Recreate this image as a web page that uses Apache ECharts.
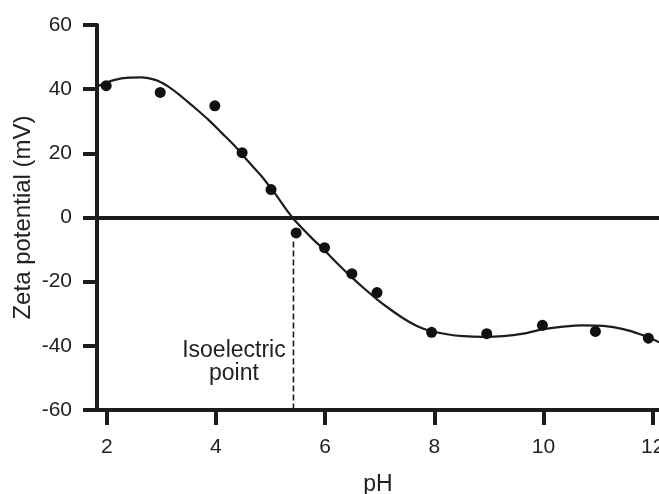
<!DOCTYPE html>
<html>
<head>
<meta charset="utf-8">
<script src="https://cdn.jsdelivr.net/npm/echarts@6/dist/echarts.min.js"></script>
<style>html,body{margin:0;padding:0;background:#fff;}#c{width:659px;height:494px;}</style>
</head>
<body>
<div id="c"></div>
<script>
var phPoints = [1.99, 2.98, 3.98, 4.48, 5.01, 5.47, 5.99, 6.49, 6.95, 7.95, 8.96, 9.98, 10.95, 11.92];
var zetaPoints = [41.1, 39, 34.8, 20.2, 8.7, -4.8, -9.4, -17.5, -23.4, -35.8, -36.2, -33.6, -35.5, -37.6];
// Fitted curve
var phCurve = [1.84, 1.88, 2.15, 2.4, 2.64, 2.89, 3.13, 3.37, 3.62, 3.86, 4.11, 4.35, 4.59, 4.84, 5.08, 5.4, 5.72, 5.97, 6.21, 6.46, 6.7, 6.95, 7.19, 7.43, 7.68, 7.92, 8.23, 8.53, 8.9, 9.26, 9.63, 10.0, 10.36, 10.73, 11.1, 11.46, 11.77, 12.07, 12.12];
var zetaCurve = [40.8, 41.3, 42.9, 43.6, 43.7, 42.9, 40.8, 37.7, 34.1, 30.5, 26.3, 22.2, 17.5, 12.8, 7.5, 0, -5.8, -9.9, -14.1, -18.2, -21.9, -25.5, -28.6, -31.4, -33.8, -35.3, -36.4, -37.0, -37.2, -37.0, -36.2, -34.8, -34.0, -33.6, -33.8, -34.8, -36.4, -38.5, -38.9];
var xTicks = [2, 4, 6, 8, 10, 12];
var isoelectricPH = 5.42;
var isoLineTop = -7.5;

var font = 'Liberation Sans, Arial, Helvetica, sans-serif';
var ink = '#1c1c1c';
var chart = echarts.init(document.getElementById('c'), null, {renderer: 'canvas'});
chart.setOption({
  animation: false,
  backgroundColor: '#fff',
  grid: {left: 97, right: 0, top: 25, bottom: 84, containLabel: false, outerBoundsMode: 'none'},
  xAxis: {
    type: 'value', min: 1.822, max: 12.115,
    name: 'pH', nameLocation: 'middle', nameGap: 63, nameMoveOverlap: false,
    nameTextStyle: {fontFamily: font, fontSize: 23, color: '#222'},
    axisLine: {onZero: false, lineStyle: {color: ink, width: 4}},
    axisTick: {show: true, length: 15, lineStyle: {color: ink, width: 4}, customValues: xTicks},
    axisLabel: {fontFamily: font, fontSize: 21, color: '#222', margin: 27, customValues: xTicks},
    splitLine: {show: false}
  },
  yAxis: {
    type: 'value', min: -60, max: 60, interval: 20,
    name: 'Zeta potential (mV)', nameLocation: 'middle', nameGap: 62, nameRotate: 90, nameMoveOverlap: false,
    nameTextStyle: {fontFamily: font, fontSize: 24, color: '#222'},
    axisLine: {show: true, onZero: false, lineStyle: {color: ink, width: 4}},
    axisTick: {show: true, length: 14, lineStyle: {color: ink, width: 4}},
    axisLabel: {fontFamily: font, fontSize: 21, color: '#222', margin: 25},
    splitLine: {show: false}
  },
  series: [
    {
      type: 'line', data: phCurve.map(function (x, i) { return [x, zetaCurve[i]]; }),
      smooth: 0.3, showSymbol: false, symbol: 'none',
      lineStyle: {color: ink, width: 2.2},
      markLine: {
        silent: true, symbol: 'none', label: {show: false},
        lineStyle: {color: ink, width: 4, type: 'solid'},
        data: [{yAxis: 0}]
      },
      z: 3
    },
    {
      type: 'line', data: [[isoelectricPH, isoLineTop], [isoelectricPH, -60]],
      showSymbol: false, symbol: 'none',
      lineStyle: {color: ink, width: 1.6, type: [6, 3]},
      markPoint: {
        symbol: 'circle', symbolSize: 0,
        label: {show: true, formatter: 'Isoelectric\npoint', fontFamily: font, fontSize: 23, lineHeight: 23, color: '#222', align: 'center', verticalAlign: 'middle'},
        data: [{coord: [4.33, -45.0]}]
      },
      z: 2
    },
    {
      type: 'scatter', data: phPoints.map(function (x, i) { return [x, zetaPoints[i]]; }),
      symbol: 'circle', symbolSize: 11,
      itemStyle: {color: '#111', opacity: 1}, z: 4
    }
  ]
});
</script>
</body>
</html>
